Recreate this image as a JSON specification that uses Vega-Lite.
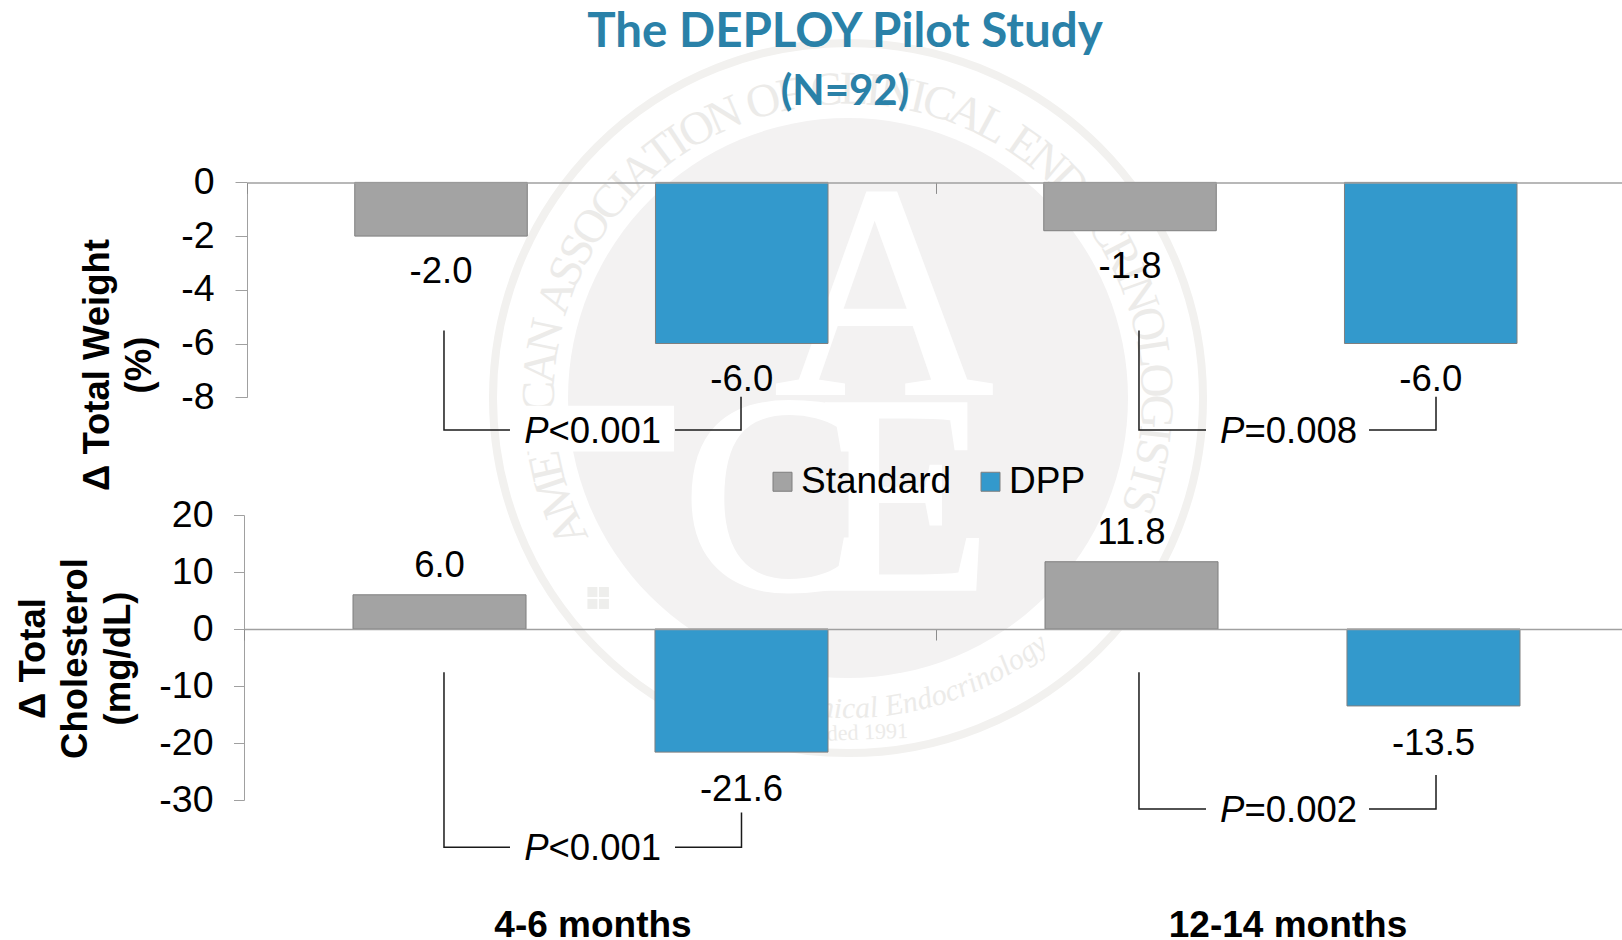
{
"$schema":"https://vega.github.io/schema/vega-lite/v6.json",
"width":1622,"height":940,"padding":0,"autosize":{"type":"none"},"background":"white",
"title":{"text":"The DEPLOY Pilot Study","subtitle":"(N=92)","anchor":"middle","frame":"group","orient":"top","offset":-107,"dx":34,"dy":44,"baseline":"alphabetic","font":"Lato","fontWeight":"bold","fontSize":47.5,"color":"#2a81a8","subtitleFont":"Lato","subtitleFontWeight":"bold","subtitleFontSize":42,"subtitleColor":"#2a81a8","subtitlePadding":11},
"config":{"view":{"stroke":null},"text":{"font":"Liberation Sans","fontSize":36.5,"color":"#000000"},"axis":{"labelFont":"Liberation Sans","titleFont":"Liberation Sans"}},
"datasets":{
"ring":[
{"ch":"A","wx":-0.74,"wy":-0.345,"rot":-115},{"ch":"M","wx":-0.774,"wy":-0.261,"rot":-108.6},{"ch":"E","wx":-0.797,"wy":-0.18,"rot":-102.7},{"ch":"R","wx":-0.81,"wy":-0.108,"rot":-97.6},{"ch":"I","wx":-0.815,"wy":-0.051,"rot":-93.6},{"ch":"C","wx":-0.817,"wy":0.004,"rot":-89.7},{"ch":"A","wx":-0.813,"wy":0.083,"rot":-84.2},{"ch":"N","wx":-0.8,"wy":0.164,"rot":-78.4},
{"ch":"A","wx":-0.771,"wy":0.27,"rot":-70.7},{"ch":"S","wx":-0.744,"wy":0.336,"rot":-65.7},{"ch":"S","wx":-0.716,"wy":0.392,"rot":-61.3},{"ch":"O","wx":-0.679,"wy":0.454,"rot":-56.2},{"ch":"C","wx":-0.632,"wy":0.517,"rot":-50.7},{"ch":"I","wx":-0.594,"wy":0.56,"rot":-46.7},{"ch":"A","wx":-0.552,"wy":0.602,"rot":-42.5},{"ch":"T","wx":-0.494,"wy":0.651,"rot":-37.2},{"ch":"I","wx":-0.451,"wy":0.681,"rot":-33.5},{"ch":"O","wx":-0.4,"wy":0.712,"rot":-29.3},{"ch":"N","wx":-0.327,"wy":0.748,"rot":-23.6},
{"ch":"O","wx":-0.224,"wy":0.785,"rot":-15.9},{"ch":"F","wx":-0.153,"wy":0.802,"rot":-10.8},
{"ch":"C","wx":-0.057,"wy":0.815,"rot":-4},{"ch":"L","wx":0.016,"wy":0.817,"rot":1.1},{"ch":"I","wx":0.068,"wy":0.814,"rot":4.8},{"ch":"N","wx":0.128,"wy":0.807,"rot":9},{"ch":"I","wx":0.187,"wy":0.795,"rot":13.2},{"ch":"C","wx":0.241,"wy":0.78,"rot":17.2},{"ch":"A","wx":0.315,"wy":0.753,"rot":22.7},{"ch":"L","wx":0.383,"wy":0.721,"rot":28},
{"ch":"E","wx":0.466,"wy":0.671,"rot":34.8},{"ch":"N","wx":0.526,"wy":0.625,"rot":40.1},{"ch":"D","wx":0.585,"wy":0.569,"rot":45.8},{"ch":"O","wx":0.639,"wy":0.508,"rot":51.5},{"ch":"C","wx":0.685,"wy":0.445,"rot":57},{"ch":"R","wx":0.723,"wy":0.38,"rot":62.3},{"ch":"I","wx":0.748,"wy":0.328,"rot":66.3},{"ch":"N","wx":0.77,"wy":0.273,"rot":70.5},{"ch":"O","wx":0.793,"wy":0.195,"rot":76.2},{"ch":"L","wx":0.808,"wy":0.121,"rot":81.5},{"ch":"O","wx":0.815,"wy":0.046,"rot":86.8},{"ch":"G","wx":0.816,"wy":-0.036,"rot":92.5},{"ch":"I","wx":0.811,"wy":-0.095,"rot":96.7},{"ch":"S","wx":0.804,"wy":-0.145,"rot":100.2},{"ch":"T","wx":0.79,"wy":-0.209,"rot":104.8},{"ch":"S","wx":0.77,"wy":-0.271,"rot":109.4}
],
"motto":[
{"ch":"C","wx":-0.128,"wy":-0.88,"rot":8.25},{"ch":"l","wx":-0.088,"wy":-0.885,"rot":5.7},{"ch":"i","wx":-0.065,"wy":-0.887,"rot":4.2},{"ch":"n","wx":-0.033,"wy":-0.888,"rot":2.1},{"ch":"i","wx":0,"wy":-0.889,"rot":0},{"ch":"c","wx":0.03,"wy":-0.888,"rot":-1.95},{"ch":"a","wx":0.07,"wy":-0.886,"rot":-4.5},{"ch":"l","wx":0.102,"wy":-0.883,"rot":-6.6},
{"ch":"E","wx":0.16,"wy":-0.874,"rot":-10.35},{"ch":"n","wx":0.205,"wy":-0.865,"rot":-13.35},{"ch":"d","wx":0.246,"wy":-0.854,"rot":-16.05},{"ch":"o","wx":0.286,"wy":-0.842,"rot":-18.75},{"ch":"c","wx":0.323,"wy":-0.828,"rot":-21.3},{"ch":"r","wx":0.355,"wy":-0.815,"rot":-23.55},{"ch":"i","wx":0.381,"wy":-0.803,"rot":-25.35},{"ch":"n","wx":0.41,"wy":-0.789,"rot":-27.45},{"ch":"o","wx":0.447,"wy":-0.769,"rot":-30.15},{"ch":"l","wx":0.474,"wy":-0.752,"rot":-32.25},{"ch":"o","wx":0.502,"wy":-0.734,"rot":-34.35},{"ch":"g","wx":0.536,"wy":-0.709,"rot":-37.05},{"ch":"y","wx":0.567,"wy":-0.685,"rot":-39.6}
],
"topBars":[
{"period":"4-6 months","series":"Standard","value":-2.0,"label":"-2.0"},
{"period":"4-6 months","series":"DPP","value":-6.0,"label":"-6.0"},
{"period":"12-14 months","series":"Standard","value":-1.8,"label":"-1.8"},
{"period":"12-14 months","series":"DPP","value":-6.0,"label":"-6.0"}],
"botBars":[
{"period":"4-6 months","series":"Standard","value":6.0,"label":"6.0"},
{"period":"4-6 months","series":"DPP","value":-21.6,"label":"-21.6"},
{"period":"12-14 months","series":"Standard","value":11.8,"label":"11.8"},
{"period":"12-14 months","series":"DPP","value":-13.5,"label":"-13.5"}],
"topLines":[
{"seg":"a","i":1,"pos":0.2859,"y":-5.52},{"seg":"a","i":2,"pos":0.2859,"y":-9.22},{"seg":"a","i":3,"pos":0.3817,"y":-9.22},
{"seg":"b","i":1,"pos":0.6212,"y":-9.22},{"seg":"b","i":2,"pos":0.717,"y":-9.22},{"seg":"b","i":3,"pos":0.717,"y":-7.98},
{"seg":"c","i":1,"pos":1.2946,"y":-5.52},{"seg":"c","i":2,"pos":1.2946,"y":-9.22},{"seg":"c","i":3,"pos":1.3919,"y":-9.22},
{"seg":"d","i":1,"pos":1.6284,"y":-9.22},{"seg":"d","i":2,"pos":1.7257,"y":-9.22},{"seg":"d","i":3,"pos":1.7257,"y":-7.98}],
"botLines":[
{"seg":"a","i":1,"pos":0.2859,"y":-7.6},{"seg":"a","i":2,"pos":0.2859,"y":-38.3},{"seg":"a","i":3,"pos":0.3817,"y":-38.3},
{"seg":"b","i":1,"pos":0.6212,"y":-38.3},{"seg":"b","i":2,"pos":0.7177,"y":-38.3},{"seg":"b","i":3,"pos":0.7177,"y":-32.2},
{"seg":"c","i":1,"pos":1.2946,"y":-7.6},{"seg":"c","i":2,"pos":1.2946,"y":-31.6},{"seg":"c","i":3,"pos":1.3919,"y":-31.6},
{"seg":"d","i":1,"pos":1.6284,"y":-31.6},{"seg":"d","i":2,"pos":1.7257,"y":-31.6},{"seg":"d","i":3,"pos":1.7257,"y":-25.6}],
"topP":[{"pos":0.4376,"y":-9.22,"rest":"<0.001"},{"pos":1.4476,"y":-9.22,"rest":"=0.008"}],
"botP":[{"pos":0.4376,"y":-38.3,"rest":"<0.001"},{"pos":1.4476,"y":-31.6,"rest":"=0.002"}]
},
"resolve":{"scale":{"x":"independent","y":"independent","xOffset":"independent"},"axis":{"x":"independent","y":"independent"}},
"layer":[
{"encoding":{
 "x":{"field":"wx","type":"quantitative","scale":{"domain":[-1,1],"range":[488,1208]},"axis":null},
 "y":{"field":"wy","type":"quantitative","scale":{"domain":[-1,1],"range":[758,38]},"axis":null}},
 "layer":[
 {"data":{"values":[{"wx":0,"wy":0}]},"mark":{"type":"point","shape":"circle","filled":false,"stroke":"#f2f1ef","strokeWidth":8,"opacity":1,"size":504100}},
 {"data":{"values":[{"wx":0,"wy":0}]},"mark":{"type":"point","shape":"circle","filled":true,"fill":"#f3f2f2","opacity":1,"size":313600}},
 {"data":{"values":[{"wx":-0.71,"wy":-0.539},{"wx":-0.678,"wy":-0.539},{"wx":-0.71,"wy":-0.572},{"wx":-0.678,"wy":-0.572}]},"mark":{"type":"point","shape":"square","filled":true,"fill":"#eeeeec","opacity":1,"size":100}},
 {"data":{"values":[{"wx":0.1,"wy":0.014,"ch":"A","fs":302},{"wx":-0.2,"wy":-0.53,"ch":"C","fs":282},{"wx":0.158,"wy":-0.53,"ch":"E","fs":282}]},"mark":{"type":"text","font":"Liberation Serif","baseline":"alphabetic","align":"center","color":"#ffffff","stroke":"#ffffff","strokeWidth":4},"encoding":{"text":{"field":"ch"},"size":{"field":"fs","type":"quantitative","scale":null,"legend":null}}},
 {"data":{"values":[{"wx":-0.008,"wy":-0.95,"ch":"Founded 1991"}]},"mark":{"type":"text","font":"Liberation Serif","fontSize":22,"baseline":"alphabetic","align":"center","color":"#ecebe9","angle":358},"encoding":{"text":{"field":"ch"}}},
 {"data":{"name":"ring"},"mark":{"type":"text","font":"Liberation Serif","fontSize":47,"baseline":"alphabetic","align":"center","color":"#ecebe9"},"encoding":{"angle":{"field":"rot","type":"quantitative","scale":null},"text":{"field":"ch"}}},
 {"data":{"name":"motto"},"mark":{"type":"text","font":"Liberation Serif","fontStyle":"italic","fontSize":30,"baseline":"alphabetic","align":"center","color":"#ecebe9","dx":-10},"encoding":{"angle":{"field":"rot","type":"quantitative","scale":null},"text":{"field":"ch"}}}
 ]},
{"data":{"name":"topBars"},"encoding":{
 "x":{"field":"period","type":"nominal","sort":null,"scale":{"domain":["4-6 months","12-14 months"],"range":[247,1625],"paddingInner":0,"paddingOuter":0},"axis":{"orient":"bottom","offset":-757.6,"zindex":1,"title":null,"labels":false,"bandPosition":0,"tickSize":11,"tickColor":"#8c8c8c","domainColor":"#a0a0a0","domainWidth":1.5,"grid":false}},
 "xOffset":{"field":"series","type":"nominal","sort":null,"scale":{"domain":["Standard","DPP"],"range":[107.75,581],"paddingInner":0.4263,"paddingOuter":0}},
 "y":{"field":"value","type":"quantitative","stack":null,"scale":{"domain":[-8,0],"range":[397.2,182.4],"nice":false,"zero":false},"axis":{"orient":"left","offset":-247,"values":[0,-2,-4,-6,-8],"grid":false,"tickSize":12,"tickColor":"#a0a0a0","domainColor":"#a0a0a0","labelFontSize":37.5,"labelColor":"#000000","labelPadding":21,"labelOffset":0,"labelOverlap":false,"labelBound":false,"labelFlush":false,"labelExpr":"replace(datum.label,'−','-')","title":["Δ Total Weight","(%)"],"titleFontSize":36.5,"titleFontWeight":"bold","titleColor":"#000000","titleAngle":-90,"titleAlign":"center","titleBaseline":"alphabetic","titleLineHeight":42,"titleX":-139,"titleY":364.5}}},
 "layer":[
 {"mark":{"type":"bar","stroke":"#7f7f7f","strokeWidth":1},"encoding":{"color":{"field":"series","type":"nominal","sort":null,"scale":{"domain":["Standard","DPP"],"range":["#a3a3a3","#3399cc"]},"legend":{"orient":"none","legendX":764,"legendY":463,"direction":"horizontal","title":null,"padding":0,"symbolType":"square","symbolSize":361,"symbolOpacity":1,"symbolStrokeColor":"#7f7f7f","symbolStrokeWidth":1,"labelFont":"Liberation Sans","labelFontSize":37,"labelColor":"#000000","labelOffset":0,"columnPadding":20,"labelLimit":300}}}},
 {"mark":{"type":"text","baseline":"middle","align":"center","dy":36},"encoding":{"text":{"field":"label"}}}
 ]},
{"data":{"name":"botBars"},"encoding":{
 "x":{"field":"period","type":"nominal","sort":null,"scale":{"domain":["4-6 months","12-14 months"],"range":[244,1628],"paddingInner":0,"paddingOuter":0},"axis":{"orient":"bottom","offset":-311,"zindex":1,"title":null,"labels":false,"bandPosition":0,"tickSize":11,"tickColor":"#8c8c8c","domainColor":"#a0a0a0","domainWidth":1.5,"grid":false}},
 "xOffset":{"field":"series","type":"nominal","sort":null,"scale":{"domain":["Standard","DPP"],"range":[109,584],"paddingInner":0.427,"paddingOuter":0}},
 "y":{"field":"value","type":"quantitative","stack":null,"scale":{"domain":[-30,20],"range":[800,515],"nice":false,"zero":false},"axis":{"orient":"left","offset":-244,"values":[20,10,0,-10,-20,-30],"grid":false,"tickSize":10.5,"tickColor":"#a0a0a0","domainColor":"#a0a0a0","labelFontSize":37.5,"labelColor":"#000000","labelPadding":20.5,"labelOffset":0,"labelOverlap":false,"labelBound":false,"labelFlush":false,"labelExpr":"replace(datum.label,'−','-')","title":["Δ Total","Cholesterol","(mg/dL)"],"titleFontSize":36.5,"titleFontWeight":"bold","titleColor":"#000000","titleAngle":-90,"titleAlign":"center","titleBaseline":"alphabetic","titleLineHeight":42.5,"titleX":-200,"titleY":658}}},
 "layer":[
 {"mark":{"type":"bar","stroke":"#7f7f7f","strokeWidth":1},"encoding":{"color":{"field":"series","type":"nominal","sort":null,"legend":null}}},
 {"transform":[{"filter":"datum.value<0"}],"mark":{"type":"text","baseline":"middle","align":"center","dy":38},"encoding":{"text":{"field":"label"}}},
 {"transform":[{"filter":"datum.value>0"}],"mark":{"type":"text","baseline":"middle","align":"center","dy":-29},"encoding":{"text":{"field":"label"}}}
 ]},
{"encoding":{
 "x":{"field":"pos","type":"quantitative","scale":{"domain":[0,2],"range":[247,1625],"nice":false,"zero":false},"axis":null},
 "y":{"field":"y","type":"quantitative","scale":{"domain":[-8,0],"range":[397.2,182.4],"nice":false,"zero":false},"axis":null}},
 "layer":[
 {"data":{"values":[{"pos":0.3832,"pos2":0.6197,"y":-8.32,"y2":-10.02}]},"mark":{"type":"rect","fill":"#ffffff"},"encoding":{"x2":{"field":"pos2"},"y2":{"field":"y2"}}},
 {"data":{"name":"topLines"},"mark":{"type":"line","color":"#1a1a1a","strokeWidth":1.5,"interpolate":"linear"},"encoding":{"detail":{"field":"seg"},"order":{"field":"i"}}},
 {"data":{"name":"topP"},"mark":{"type":"text","align":"right","baseline":"middle","dy":2,"fontStyle":"italic","text":"P"}},
 {"data":{"name":"topP"},"mark":{"type":"text","align":"left","baseline":"middle","dy":2},"encoding":{"text":{"field":"rest"}}}
 ]},
{"encoding":{
 "x":{"field":"pos","type":"quantitative","scale":{"domain":[0,2],"range":[247,1625],"nice":false,"zero":false},"axis":null},
 "y":{"field":"y","type":"quantitative","scale":{"domain":[-30,20],"range":[800,515],"nice":false,"zero":false},"axis":null}},
 "layer":[
 {"data":{"name":"botLines"},"mark":{"type":"line","color":"#1a1a1a","strokeWidth":1.5,"interpolate":"linear"},"encoding":{"detail":{"field":"seg"},"order":{"field":"i"}}},
 {"data":{"name":"botP"},"mark":{"type":"text","align":"right","baseline":"middle","dy":2,"fontStyle":"italic","text":"P"}},
 {"data":{"name":"botP"},"mark":{"type":"text","align":"left","baseline":"middle","dy":2},"encoding":{"text":{"field":"rest"}}},
 {"data":{"values":[{"pos":0.5022,"y":-54.1,"name":"4-6 months"},{"pos":1.5109,"y":-54.1,"name":"12-14 months"}]},"mark":{"type":"text","align":"center","baseline":"alphabetic","fontWeight":"bold","fontSize":37},"encoding":{"text":{"field":"name"}}}
 ]}
]
}
